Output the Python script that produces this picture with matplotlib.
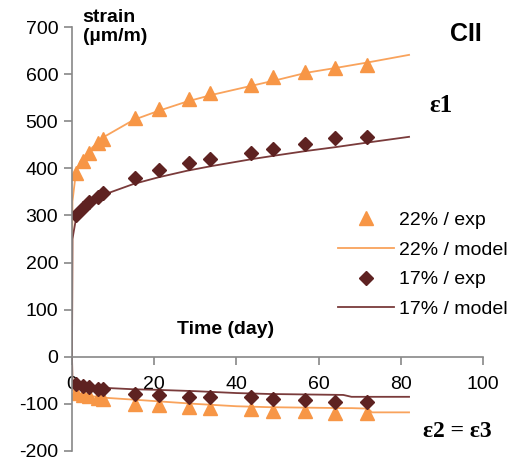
import matplotlib.pyplot as plt

plt.rcParams['font.family'] = ['Liberation Sans', 'DejaVu Sans']
plt.rcParams['axes.unicode_minus'] = False

# temps (jours) des mesures
t_exp = [1, 2.7, 4.2, 6.3, 7.5, 15.4, 21.2, 28.5, 33.6, 43.6, 48.8, 56.8, 63.9, 71.7]

# eps1 mesuré
e1_22_exp = [390, 416, 433, 454, 463, 507, 527, 548, 561, 576, 593, 604, 614, 620]
e1_17_exp = [300, 316, 328, 339, 347, 380, 397, 412, 420, 433, 441, 452, 465, 467]
# eps2 = eps3 mesuré
e2_22_exp = [-77, -81, -83, -87, -90, -100, -102, -107, -109, -111, -115, -115, -119, -119]
e2_17_exp = [-58, -62, -64, -68, -68, -79, -81, -85, -85, -85, -90, -92, -96, -96]

# courbes du modèle
t_mod = [0, 0.1, 1, 2, 5, 8, 15, 21, 28, 34, 44, 50, 57, 64, 72, 82]
e1_22_mod = [0, 330, 395, 415, 445, 468, 503, 522, 542, 556, 576, 588, 603, 613, 625, 641]
e1_17_mod = [0, 250, 295, 310, 330, 345, 367, 381, 395, 405, 420, 428, 437, 445, 455, 467]

t_mod2 = [0, 0.1, 1, 3, 8, 15, 20, 30, 40, 48, 66, 68, 72, 73, 82]
e2_22_mod = [0, -70, -77, -82, -87, -91, -94, -100, -105, -107, -109, -109, -110, -118, -118]
e2_17_mod = [0, -55, -60, -63, -66, -69, -70, -73, -77, -79, -81, -85, -85, -85, -85]

orange = '#F79646'
orange_l = '#F9A35C'
brun = '#5E2221'
brun_l = '#7A3B3B'
gris = '#888888'

fig = plt.figure(figsize=(5.17, 4.71), dpi=100)
ax = fig.add_axes([0.1393, 0.0425, 0.795, 0.900])

# modèle
ax.plot(t_mod, e1_22_mod, color=orange_l, lw=1.3, label='22% / model')
ax.plot(t_mod2, e2_22_mod, color=orange_l, lw=1.3)
ax.plot(t_mod, e1_17_mod, color=brun_l, lw=1.3, label='17% / model')
ax.plot(t_mod2, e2_17_mod, color=brun_l, lw=1.3)

# mesures
ax.plot(t_exp, e1_22_exp, '^', color=orange, ms=10, ls='none', label='22% / exp')
ax.plot(t_exp, e2_22_exp, '^', color=orange, ms=10, ls='none')
ax.plot(t_exp, e1_17_exp, 'D', color=brun, ms=7.5, ls='none', label='17% / exp')
ax.plot(t_exp, e2_17_exp, 'D', color=brun, ms=7.5, ls='none')

ax.set_xlim(0, 100)
ax.set_ylim(-200, 700)
ax.set_xticks([0, 20, 40, 60, 80, 100])
ax.set_yticks(range(-200, 701, 100))

for s in ['top', 'right']:
    ax.spines[s].set_visible(False)
ax.spines['bottom'].set_position(('data', 0))
ax.spines['bottom'].set_color(gris)
ax.spines['left'].set_color(gris)
ax.spines['bottom'].set_linewidth(1.2)
ax.spines['left'].set_linewidth(1.2)
ax.tick_params(axis='both', colors=gris, labelcolor='black', labelsize=14, length=6, width=1.2)
ax.tick_params(axis='x', pad=8)
ax.tick_params(axis='y', pad=4)

# légende dans l'ordre du graphique
h, l = ax.get_legend_handles_labels()
ordre = [2, 0, 3, 1]
fig.legend([h[i] for i in ordre], [l[i] for i in ordre], frameon=False, fontsize=14,
           loc='upper left', bbox_to_anchor=(0.62, 0.588), labelspacing=0.62,
           handlelength=2.9, handletextpad=0.25)

fig.text(0.16, 0.98, 'strain\n(µm/m)', fontsize=14, fontweight='bold', va='top', ha='left', linespacing=1.1)
fig.text(0.902, 0.928, 'CII', fontsize=18, fontweight='bold', ha='center', va='center')
fig.text(0.852, 0.777, 'ε1', fontsize=18, fontweight='bold', family='Liberation Serif', ha='center', va='center')
fig.text(0.885, 0.083, 'ε2 = ε3', fontsize=17, fontweight='bold', family='Liberation Serif', ha='center', va='center')
fig.text(0.437, 0.30, 'Time (day)', fontsize=14, fontweight='bold', ha='center', va='center')

fig.savefig('out.png', dpi=100)
